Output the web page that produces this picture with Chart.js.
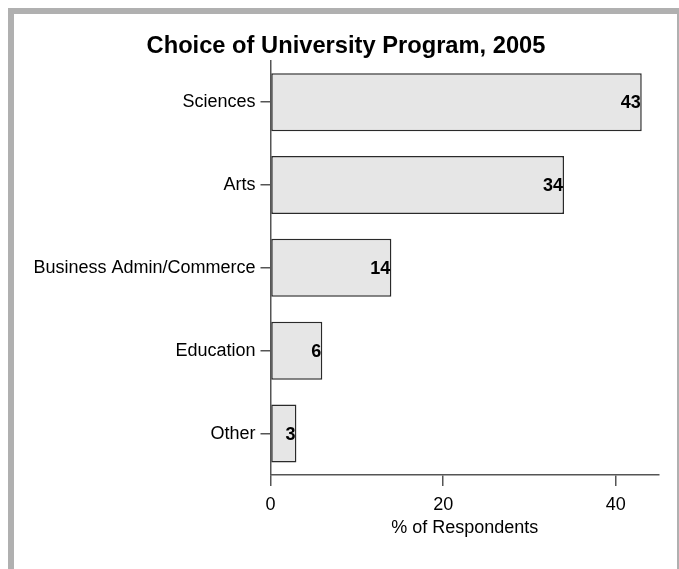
<!DOCTYPE html>
<html>
<head>
<meta charset="utf-8">
<script src="https://cdn.jsdelivr.net/npm/chart.js@4"></script>
<style>
html,body{margin:0;padding:0;background:#fff;width:679px;height:569px;overflow:hidden;}
#frame{position:absolute;left:8px;top:8px;width:675px;height:600px;box-sizing:border-box;border:6px solid #b0b0b0;border-bottom:none;}
#wrap{position:absolute;left:0;top:0;width:679px;height:569px;}
</style>
</head>
<body>
<div id="frame"></div>
<div id="wrap"><canvas id="c" width="679" height="569"></canvas></div>
<script>
const categories = ["Sciences", "Arts", "Business Admin/Commerce", "Education", "Other"];
const percentValues = [43, 34, 14, 6, 3];
const xTickValues = [0, 20, 40];
const chartTitle = "Choice of University Program, 2005";
const xAxisTitle = "% of Respondents";

const FONT = "'Liberation Sans', Arial, Helvetica, sans-serif";

const valueLabels = {
  id: 'valueLabels',
  afterDatasetsDraw(chart) {
    const ctx = chart.ctx;
    const meta = chart.getDatasetMeta(0);
    ctx.save();
    ctx.font = "bold 18px " + FONT;
    ctx.fillStyle = "#000";
    ctx.textAlign = "right";
    ctx.textBaseline = "middle";
    meta.data.forEach((bar, i) => {
      ctx.fillText(String(percentValues[i]), bar.x - 1, bar.y + 1);
    });
    ctx.restore();
  }
};

const pageTitle = {
  id: 'pageTitle',
  afterDraw(chart) {
    const ctx = chart.ctx;
    ctx.save();
    ctx.font = "bold 23.7px " + FONT;
    ctx.fillStyle = "#000";
    ctx.textAlign = "center";
    ctx.textBaseline = "alphabetic";
    ctx.fillText(chartTitle, 346, 53);
    ctx.restore();
  }
};

new Chart(document.getElementById('c'), {
  type: 'bar',
  data: {
    labels: categories,
    datasets: [{
      data: percentValues,
      backgroundColor: '#e6e6e6',
      borderColor: '#2a2a2a',
      borderWidth: 1.5,
      borderSkipped: false,
      barPercentage: 0.7,
      categoryPercentage: 1.0
    }]
  },
  options: {
    indexAxis: 'y',
    responsive: false,
    animation: false,
    devicePixelRatio: 1,
    layout: { padding: { left: 0, right: 20, top: 60.7, bottom: 0 } },
    plugins: {
      legend: { display: false },
      tooltip: { enabled: false },
      title: { display: false }
    },
    scales: {
      y: {
        type: 'category',
        offset: true,
        afterFit(s) { s.width = 270.5; },
        grid: { display: true, offset: false, drawOnChartArea: false, drawTicks: true, tickLength: 10, color: '#555', lineWidth: 1.5 },
        border: { display: true, color: '#555', width: 1.5 },
        ticks: { color: '#000', padding: 5, font: { family: FONT, size: 18 } }
      },
      x: {
        type: 'linear',
        min: 0,
        max: 45,
        afterFit(s) { s.height = 94; },
        afterBuildTicks(s) { s.ticks = xTickValues.map(v => ({ value: v })); },
        grid: { display: true, drawOnChartArea: false, drawTicks: true, tickLength: 11, color: '#555', lineWidth: 1.5 },
        border: { display: true, color: '#555', width: 1.5 },
        ticks: { color: '#000', padding: 8, font: { family: FONT, size: 18 } },
        title: {
          display: true,
          text: xAxisTitle,
          color: '#000',
          font: { family: FONT, size: 18 },
          padding: { top: 0, bottom: 30 }
        }
      }
    }
  },
  plugins: [valueLabels, pageTitle]
});
</script>
</body>
</html>
